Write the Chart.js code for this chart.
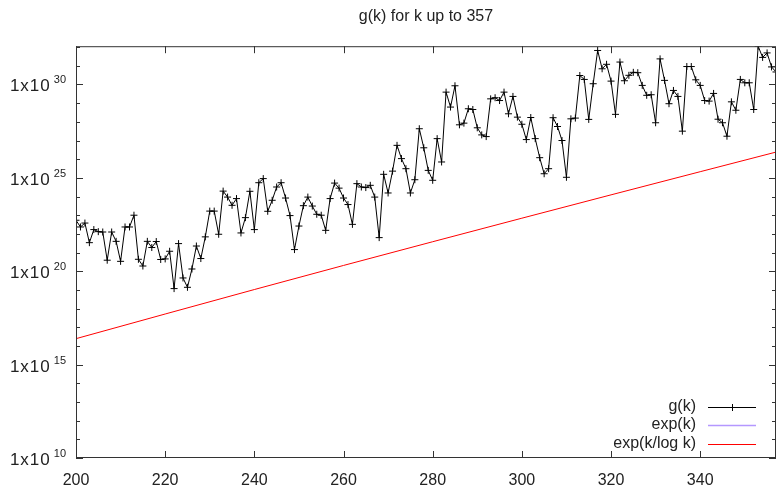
<!DOCTYPE html>
<html>
<head>
<meta charset="utf-8">
<title>g(k) for k up to 357</title>
<script src="https://cdn.jsdelivr.net/npm/chart.js@4/dist/chart.umd.min.js"></script>
<style>
  html, body { margin: 0; padding: 0; background: #fff; }
  canvas { display: block; }
</style>
</head>
<body>
<canvas id="gChart" width="776" height="486"></canvas>
<script>
// k values on the x axis
const kValues = [
  200, 201, 202, 203, 204, 205, 206, 207, 208, 209, 210, 211, 212, 213, 214, 215, 216, 217, 218, 219,
  220, 221, 222, 223, 224, 225, 226, 227, 228, 229, 230, 231, 232, 233, 234, 235, 236, 237, 238, 239,
  240, 241, 242, 243, 244, 245, 246, 247, 248, 249, 250, 251, 252, 253, 254, 255, 256, 257, 258, 259,
  260, 261, 262, 263, 264, 265, 266, 267, 268, 269, 270, 271, 272, 273, 274, 275, 276, 277, 278, 279,
  280, 281, 282, 283, 284, 285, 286, 287, 288, 289, 290, 291, 292, 293, 294, 295, 296, 297, 298, 299,
  300, 301, 302, 303, 304, 305, 306, 307, 308, 309, 310, 311, 312, 313, 314, 315, 316, 317, 318, 319,
  320, 321, 322, 323, 324, 325, 326, 327, 328, 329, 330, 331, 332, 333, 334, 335, 336, 337, 338, 339,
  340, 341, 342, 343, 344, 345, 346, 347, 348, 349, 350, 351, 352, 353, 354, 355, 356, 357
];

// g(k), written as the power of ten
const gExponent = [
  22.73, 22.37, 22.58, 21.53, 22.23, 22.12, 22.10, 20.59, 22.10, 21.60, 20.53, 22.37, 22.37, 23.00, 20.64, 20.28, 21.60, 21.27, 21.59, 20.63,
  20.66, 21.07, 19.07, 21.48, 19.64, 19.14, 20.12, 21.35, 20.68, 21.84, 23.22, 23.22, 21.98, 24.29, 23.97, 23.53, 23.89, 22.05, 22.87, 24.28,
  22.23, 24.74, 24.96, 23.21, 23.80, 24.51, 24.74, 23.92, 22.98, 21.16, 22.42, 23.51, 23.97, 23.49, 23.05, 23.00, 22.19, 23.89, 24.72, 24.45,
  23.92, 23.57, 22.51, 24.69, 24.51, 24.48, 24.60, 23.97, 21.80, 25.19, 24.19, 25.36, 26.74, 26.03, 25.49, 24.19, 24.90, 27.63, 26.61, 25.40,
  24.87, 27.10, 25.85, 29.59, 28.79, 29.93, 27.84, 27.93, 28.70, 28.66, 27.68, 27.30, 27.21, 29.23, 29.29, 29.14, 29.59, 28.43, 29.36, 28.25,
  27.87, 27.05, 28.23, 27.10, 26.08, 25.22, 25.49, 28.22, 27.75, 27.00, 25.03, 28.16, 28.20, 30.48, 30.27, 28.13, 30.04, 31.82, 30.84, 31.08,
  30.18, 28.40, 31.20, 30.20, 30.49, 30.65, 30.63, 29.95, 29.42, 29.45, 27.95, 31.37, 30.22, 28.97, 29.68, 29.36, 27.50, 30.96, 30.96, 30.25,
  29.95, 29.14, 29.11, 29.52, 28.14, 27.95, 27.23, 29.07, 28.62, 30.27, 30.09, 30.09, 28.66, 32.05, 31.45, 31.69, 30.94, 30.67
];

// exp(k/log k), read at a few k along the red line (power of ten)
const redK = [200, 220, 240, 260, 280, 300, 320, 340, 357];
const redExponent = [16.39, 17.71, 19.02, 20.31, 21.58, 22.84, 24.09, 25.33, 26.38];

// exp(k) is above the top of the plot over the whole range, only its key shows
const expK = [];

const xTicks = [200, 220, 240, 260, 280, 300, 320, 340];
const yDecades = [10, 11, 12, 13, 14, 15, 16, 17, 18, 19, 20, 21, 22, 23, 24, 25, 26, 27, 28, 29, 30, 31, 32];
const yLabelled = [10, 15, 20, 25, 30];

const FONT = '"Liberation Sans", Arial, sans-serif';
const TEXT = '#222';

// gnuplot style box: inward tics on all four sides, 1x10^n labels
const frame = {
    id: 'frame',
    afterDatasetsDraw(chart) {
        const { ctx, chartArea: a, scales: { x, y } } = chart;
        ctx.save();
        ctx.strokeStyle = '#333';
        ctx.lineWidth = 1;
        ctx.strokeRect(a.left + 0.5, a.top + 0.5, a.right - a.left - 1, a.bottom - a.top - 1);

        ctx.beginPath();
        xTicks.forEach(v => {
            const px = Math.round(x.getPixelForValue(v)) + 0.5;
            ctx.moveTo(px, a.bottom); ctx.lineTo(px, a.bottom - 7);
            ctx.moveTo(px, a.top); ctx.lineTo(px, a.top + 7);
        });
        yDecades.forEach(e => {
            const py = Math.round(y.getPixelForValue(Math.pow(10, e))) + 0.5;
            const len = yLabelled.includes(e) ? 7 : 4;
            ctx.moveTo(a.left, py); ctx.lineTo(a.left + len, py);
            ctx.moveTo(a.right, py); ctx.lineTo(a.right - len, py);
        });
        ctx.stroke();

        ctx.fillStyle = TEXT;
        ctx.textAlign = 'left';
        ctx.textBaseline = 'alphabetic';
        yLabelled.forEach(e => {
            const py = y.getPixelForValue(Math.pow(10, e));
            ctx.letterSpacing = '0px';
            ctx.font = '11px ' + FONT;
            const sup = String(e);
            const sw = ctx.measureText(sup).width;
            ctx.font = '17px ' + FONT;
            ctx.letterSpacing = '1px';
            const base = '1x10';
            const bw = ctx.measureText(base).width;
            const right = a.left - 10;
            ctx.fillText(base, right - sw - 3 - bw, py + 7);
            ctx.letterSpacing = '0px';
            ctx.font = '11px ' + FONT;
            ctx.fillText(sup, right - sw, py - 1);
        });
        ctx.restore();
    }
};

// key in the lower right corner, text first then the line sample
const key = {
    id: 'key',
    afterDraw(chart) {
        const { ctx } = chart;
        const rows = [407, 425, 444];
        ctx.save();
        ctx.font = '16px ' + FONT;
        ctx.textAlign = 'right';
        ctx.textBaseline = 'middle';
        chart.data.datasets.forEach((ds, i) => {
            const ry = rows[i];
            ctx.fillStyle = TEXT;
            ctx.fillText(ds.label, 696, ry);
            ctx.strokeStyle = ds.borderColor;
            ctx.lineWidth = ds.borderWidth;
            ctx.beginPath();
            ctx.moveTo(708, ry + 0.5);
            ctx.lineTo(756, ry + 0.5);
            if (ds.pointStyle === 'cross') {
                ctx.moveTo(732.5, ry - 3);
                ctx.lineTo(732.5, ry + 4);
            }
            ctx.stroke();
        });
        ctx.restore();
    }
};

const ctx = document.getElementById('gChart').getContext('2d');

new Chart(ctx, {
    type: 'line',
    data: {
        datasets: [
            {
                label: 'g(k)',
                data: kValues.map((k, i) => ({ x: k, y: Math.pow(10, gExponent[i]) })),
                borderColor: '#000',
                borderWidth: 1,
                pointStyle: 'cross',
                pointRadius: 3.5,
                pointBorderColor: '#000',
                pointBorderWidth: 1,
                tension: 0
            },
            {
                label: 'exp(k)',
                data: expK,
                borderColor: '#b498ff',
                borderWidth: 1.5,
                pointRadius: 0
            },
            {
                label: 'exp(k/log k)',
                data: redK.map((k, i) => ({ x: k, y: Math.pow(10, redExponent[i]) })),
                borderColor: '#ff0000',
                borderWidth: 1,
                pointRadius: 0,
                tension: 0
            }
        ]
    },
    options: {
        responsive: false,
        animation: false,
        layout: { autoPadding: false, padding: { left: 76, right: 0, top: 0, bottom: 0 } },
        plugins: {
            legend: { display: false },
            tooltip: { enabled: false },
            title: {
                display: true,
                text: 'g(k) for k up to 357',
                fullSize: false,
                color: TEXT,
                font: { family: FONT, size: 16, weight: 'normal' },
                padding: { top: 7, bottom: 20 }
            }
        },
        scales: {
            x: {
                type: 'linear',
                min: 200,
                max: 357,
                grid: { display: false, drawTicks: false },
                border: { display: false },
                afterBuildTicks: scale => { scale.ticks = xTicks.map(v => ({ value: v })); },
                afterFit: scale => {
                    scale.height = 28;
                    scale.paddingLeft = 0;
                    scale.paddingRight = 0;
                },
                ticks: {
                    color: TEXT,
                    font: { family: FONT, size: 16 },
                    padding: 13,
                    maxRotation: 0
                }
            },
            y: {
                type: 'logarithmic',
                min: 1e10,
                max: 1.12e32,
                grid: { display: false, drawTicks: false },
                border: { display: false },
                ticks: { display: false }
            }
        }
    },
    plugins: [frame, key]
});
</script>
</body>
</html>
